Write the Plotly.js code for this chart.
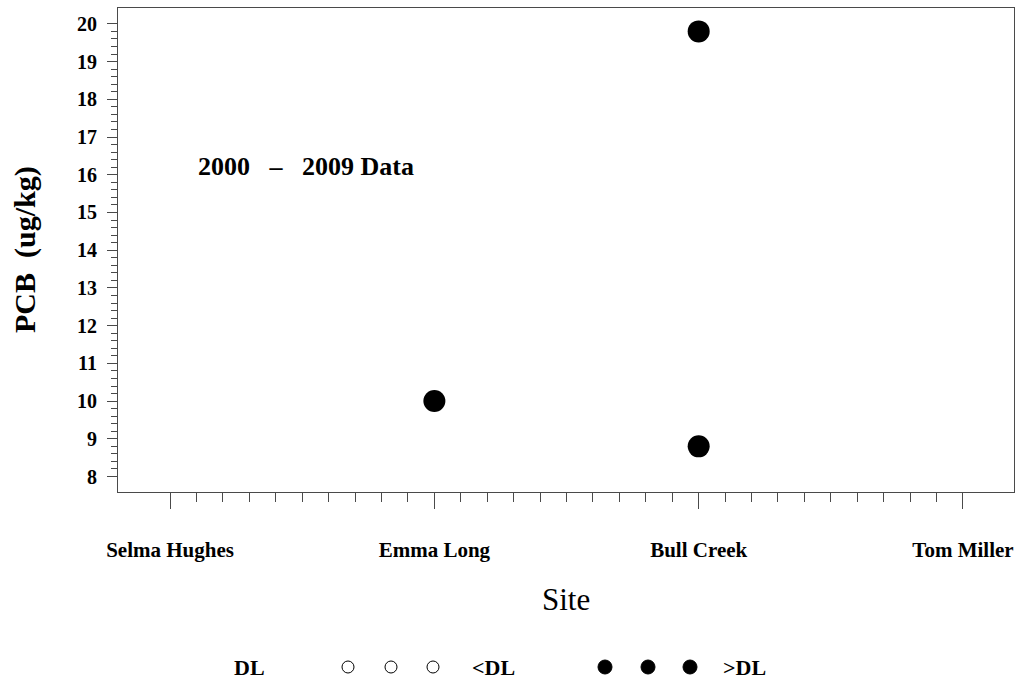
<!DOCTYPE html>
<html>
<head>
<meta charset="utf-8">
<script src="https://cdn.plot.ly/plotly-3.0.1.min.js"></script>
<style>
  html, body { margin: 0; padding: 0; background: #fff; }
  #chart { width: 1018px; height: 684px; }
</style>
</head>
<body>
<div id="chart"></div>
<script>
// ---- data ----
const sites = ['Selma Hughes', 'Emma Long', 'Bull Creek', 'Tom Miller'];
const pointSites = ['Emma Long', 'Bull Creek', 'Bull Creek'];
const pcbValues = [10.0, 19.8, 8.8];
const yTickVals = [8, 9, 10, 11, 12, 13, 14, 15, 16, 17, 18, 19, 20];
const annotationText = '2000\u00a0\u00a0\u00a0\u2013\u00a0\u00a0\u00a02009\u00a0Data';
const legendTitle = 'DL';
const legendBelow = '<DL';
const legendAbove = '>DL';

// ---- derived ----
const siteIdx = sites.map((s, i) => i + 1);
const xPts = pointSites.map(s => sites.indexOf(s) + 1);

const xMinor = [];
for (let k = 10; k < 40; k++) { if (k % 10 !== 0) xMinor.push(k / 10); }
const yMinor = [];
for (let k = 40; k < 100; k++) { if (k % 5 !== 0) yMinor.push(k / 5); }

const serif = 'Liberation Serif, Times New Roman, serif';
const axisColor = '#4a4a4a';

const trace = {
  x: xPts,
  y: pcbValues,
  type: 'scatter',
  mode: 'markers',
  marker: { color: '#000', size: 22, line: { width: 0 } },
  hoverinfo: 'x+y',
  showlegend: false
};

// pixel helpers for paper placement (plot area: x 118..1014, y 8..492)
const L = 118, R = 1014, T = 8, B = 492;
const px = v => (v - L) / (R - L);
const py = v => (B - v) / (B - T);

const legendY = py(667);
const openX = [348, 391, 433];
const fillX = [605, 648, 690];

const shapes = [];
openX.forEach(x => shapes.push({
  type: 'circle', xref: 'paper', yref: 'paper',
  xsizemode: 'pixel', ysizemode: 'pixel',
  xanchor: px(x), yanchor: legendY,
  x0: -6, x1: 6, y0: -6, y1: 6,
  line: { color: '#000', width: 1 }, fillcolor: '#fff'
}));
fillX.forEach(x => shapes.push({
  type: 'circle', xref: 'paper', yref: 'paper',
  xsizemode: 'pixel', ysizemode: 'pixel',
  xanchor: px(x), yanchor: legendY,
  x0: -7, x1: 7, y0: -7, y1: 7,
  line: { color: '#000', width: 1 }, fillcolor: '#000'
}));

const boldFont = (size) => ({ family: serif, size: size, color: '#000', weight: 700 });

const annotations = [
  { text: annotationText, xref: 'paper', yref: 'paper', x: px(196), y: py(166),
    xanchor: 'left', yanchor: 'middle', showarrow: false, font: boldFont(26) },
  { text: 'Site', xref: 'paper', yref: 'paper', x: 0.5, y: py(599),
    xanchor: 'center', yanchor: 'middle', showarrow: false,
    font: { family: serif, size: 31, color: '#000' } },
  { text: 'PCB\u00a0\u00a0(ug/kg)', xref: 'paper', yref: 'paper', x: px(25), y: 0.5,
    xanchor: 'center', yanchor: 'middle', textangle: -90, showarrow: false,
    font: { family: serif, size: 30, color: '#000', weight: 600 } },
  { text: legendTitle, xref: 'paper', yref: 'paper', x: px(249), y: legendY,
    xanchor: 'center', yanchor: 'middle', showarrow: false, font: boldFont(22) },
  { text: legendBelow, xref: 'paper', yref: 'paper', x: px(470), y: legendY,
    xanchor: 'left', yanchor: 'middle', showarrow: false, font: boldFont(22) },
  { text: legendAbove, xref: 'paper', yref: 'paper', x: px(721), y: legendY,
    xanchor: 'left', yanchor: 'middle', showarrow: false, font: boldFont(22) }
];

const layout = {
  width: 1018, height: 684,
  margin: { l: L, r: 1018 - R, t: T, b: 684 - B, pad: 0 },
  paper_bgcolor: '#fff', plot_bgcolor: '#fff',
  showlegend: false,
  xaxis: {
    range: [0.803, 4.193],
    tickmode: 'array', tickvals: siteIdx, ticktext: sites,
    ticks: 'outside', ticklen: 16, tickwidth: 1, tickcolor: axisColor,
    ticklabelstandoff: 23,
    minor: { tickmode: 'array', tickvals: xMinor, ticks: 'outside', ticklen: 9, tickwidth: 1, tickcolor: axisColor, showgrid: false },
    showline: true, linecolor: axisColor, linewidth: 1, mirror: true,
    showgrid: false, zeroline: false,
    tickfont: boldFont(21)
  },
  yaxis: {
    range: [7.59, 20.42],
    tickmode: 'array', tickvals: yTickVals,
    ticks: 'outside', ticklen: 10, tickwidth: 1, tickcolor: axisColor,
    ticklabelstandoff: 6,
    minor: { tickmode: 'array', tickvals: yMinor, ticks: 'outside', ticklen: 6, tickwidth: 1, tickcolor: axisColor, showgrid: false },
    showline: true, linecolor: axisColor, linewidth: 1, mirror: true,
    showgrid: false, zeroline: false,
    tickfont: boldFont(20)
  },
  shapes: shapes,
  annotations: annotations
};

Plotly.newPlot('chart', [trace], layout, { displayModeBar: false, staticPlot: true });
</script>
</body>
</html>
